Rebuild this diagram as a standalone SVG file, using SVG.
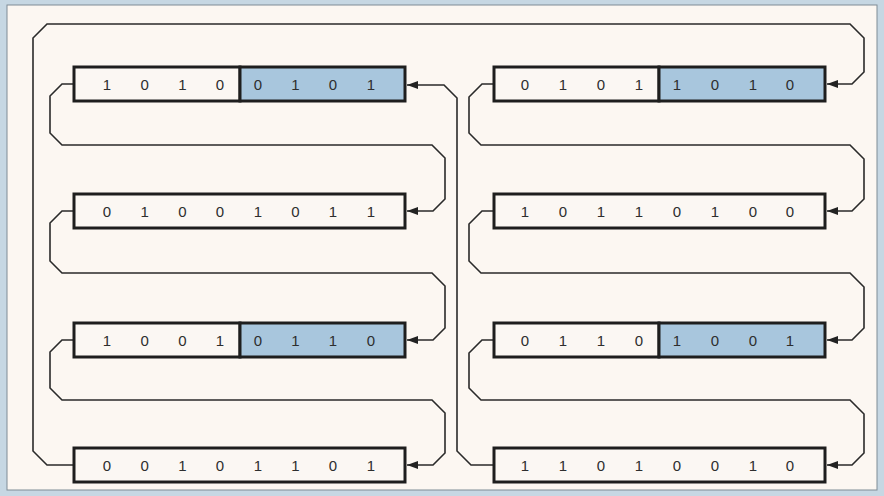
<svg xmlns="http://www.w3.org/2000/svg" width="884" height="496" viewBox="0 0 884 496">
<defs>
<marker id="ah" markerUnits="userSpaceOnUse" markerWidth="11" markerHeight="8" refX="11" refY="4" orient="auto">
<path d="M0,0 L11,4 L0,8 Z" fill="#222"/>
</marker>
<style>
.box{fill:#fbf7f3;stroke:#1e1e1e;stroke-width:3}
.blue{fill:#a8c6dd;stroke:#1e1e1e;stroke-width:3}
.d{font-family:"Liberation Sans",Arial,sans-serif;font-size:15px;fill:#2e2e2e;text-anchor:middle}
.c{fill:none;stroke:#2a2a2a;stroke-width:1.6;stroke-linejoin:miter}
.a{marker-end:url(#ah)}
</style>
</defs>
<rect x="0" y="0" width="884" height="496" fill="#c6d7e3"/>
<rect x="7" y="5" width="870" height="485" fill="#fcf7f2" stroke="#7f8c96" stroke-width="1"/>

<g id="connectors">
<path class="c a" d="M74,84 L62,84 L50,96 L50,133 L62,145 L432,145 L445,158 L445,199 L433,211 L407,211"/>
<path class="c a" d="M74,211 L62,211 L50,223 L50,261 L62,273 L432,273 L445,286 L445,328 L433,340 L407,340"/>
<path class="c a" d="M74,340 L62,340 L50,352 L50,388 L62,400 L432,400 L445,413 L445,453 L433,465 L407,465"/>
<path class="c a" d="M74,465 L47,465 L33,451 L33,38 L47,24 L850,24 L864,38 L864,72 L852,84 L827,84"/>
<path class="c a" d="M494,84 L482,84 L469,97 L469,133 L481,145 L850,145 L864,159 L864,199 L852,211 L827,211"/>
<path class="c a" d="M494,211 L482,211 L469,224 L469,261 L481,273 L850,273 L864,287 L864,328 L852,340 L827,340"/>
<path class="c a" d="M494,340 L482,340 L469,353 L469,388 L481,400 L850,400 L864,414 L864,453 L852,465 L827,465"/>
<path class="c a" d="M494,465 L471,465 L457,451 L457,98 L444,85 L407,85"/>
</g>

<g id="L1">
<rect class="box" x="74" y="67" width="166" height="34"/>
<rect class="blue" x="240" y="67" width="165" height="34"/>
<text class="d" y="89.5"><tspan x="107">1</tspan><tspan x="144.7">0</tspan><tspan x="182.4">1</tspan><tspan x="220">0</tspan><tspan x="257.8">0</tspan><tspan x="295.5">1</tspan><tspan x="333">0</tspan><tspan x="371">1</tspan></text>
</g>
<g id="L2">
<rect class="box" x="74" y="194" width="331" height="34"/>
<text class="d" y="216.5"><tspan x="107">0</tspan><tspan x="144.7">1</tspan><tspan x="182.4">0</tspan><tspan x="220">0</tspan><tspan x="257.8">1</tspan><tspan x="295.5">0</tspan><tspan x="333">1</tspan><tspan x="371">1</tspan></text>
</g>
<g id="L3">
<rect class="box" x="74" y="323" width="166" height="34"/>
<rect class="blue" x="240" y="323" width="165" height="34"/>
<text class="d" y="345.5"><tspan x="107">1</tspan><tspan x="144.7">0</tspan><tspan x="182.4">0</tspan><tspan x="220">1</tspan><tspan x="257.8">0</tspan><tspan x="295.5">1</tspan><tspan x="333">1</tspan><tspan x="371">0</tspan></text>
</g>
<g id="L4">
<rect class="box" x="74" y="448" width="331" height="34"/>
<text class="d" y="470.5"><tspan x="107">0</tspan><tspan x="144.7">0</tspan><tspan x="182.4">1</tspan><tspan x="220">0</tspan><tspan x="257.8">1</tspan><tspan x="295.5">1</tspan><tspan x="333">0</tspan><tspan x="371">1</tspan></text>
</g>

<g id="R1">
<rect class="box" x="494" y="67" width="165" height="34"/>
<rect class="blue" x="659" y="67" width="166" height="34"/>
<text class="d" y="89.5"><tspan x="525">0</tspan><tspan x="563">1</tspan><tspan x="601">0</tspan><tspan x="639">1</tspan><tspan x="677">1</tspan><tspan x="715">0</tspan><tspan x="753">1</tspan><tspan x="790">0</tspan></text>
</g>
<g id="R2">
<rect class="box" x="494" y="194" width="331" height="34"/>
<text class="d" y="216.5"><tspan x="525">1</tspan><tspan x="563">0</tspan><tspan x="601">1</tspan><tspan x="639">1</tspan><tspan x="677">0</tspan><tspan x="715">1</tspan><tspan x="753">0</tspan><tspan x="790">0</tspan></text>
</g>
<g id="R3">
<rect class="box" x="494" y="323" width="165" height="34"/>
<rect class="blue" x="659" y="323" width="166" height="34"/>
<text class="d" y="345.5"><tspan x="525">0</tspan><tspan x="563">1</tspan><tspan x="601">1</tspan><tspan x="639">0</tspan><tspan x="677">1</tspan><tspan x="715">0</tspan><tspan x="753">0</tspan><tspan x="790">1</tspan></text>
</g>
<g id="R4">
<rect class="box" x="494" y="448" width="331" height="34"/>
<text class="d" y="470.5"><tspan x="525">1</tspan><tspan x="563">1</tspan><tspan x="601">0</tspan><tspan x="639">1</tspan><tspan x="677">0</tspan><tspan x="715">0</tspan><tspan x="753">1</tspan><tspan x="790">0</tspan></text>
</g>
</svg>
